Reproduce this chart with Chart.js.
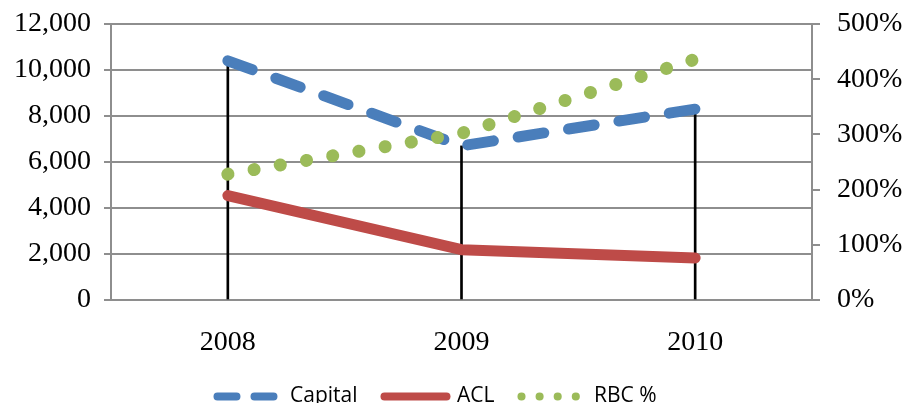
<!DOCTYPE html>
<html>
<head>
<meta charset="utf-8">
<script src="https://cdn.jsdelivr.net/npm/chart.js@4/dist/chart.umd.min.js"></script>
<style>
  html, body { margin: 0; padding: 0; background: #fff; overflow: hidden; }
  #wrap { position: relative; width: 910px; height: 417px; }
</style>
</head>
<body>
<div id="wrap"><canvas id="c"></canvas></div>
<script>
// Categories and series
const years = ['2008', '2009', '2010'];
const capital = [10400, 6700, 8300];
const acl = [4540, 2190, 1830];
const rbcPct = [228, 302, 436];

// Axis ranges
const leftAxis = { min: 0, max: 12000, step: 2000 };
const rightAxis = { min: 0, max: 500, step: 100 };

const BLUE = '#4a7ebb';
const RED = '#be4b48';
const GREEN = '#9bbb59';
const GRID = '#8e8e8e';
const serif = { family: "'Liberation Serif', 'Times New Roman', serif", size: 28 };

// legend samples: thinner versions of each line style
const legendStyle = [
  { lineDash: [19, 18] },
  { lineDash: [] },
  { lineDash: [0.1, 18] }
];

// nudges the legend row a little left of the canvas centre
const legendShift = {
  id: 'legendShift',
  afterLayout(chart) {
    if (chart.legend) chart.legend.right -= 36;
  }
};

// value axes: no extra room reserved above/below for the end labels
function trimPadding(s) {
  s.paddingTop = 0;
  s.paddingBottom = 0;
}

new Chart(document.getElementById('c'), {
  type: 'line',
  data: {
    labels: years,
    datasets: [
      {
        label: 'Capital',
        data: capital,
        yAxisID: 'y',
        borderColor: BLUE,
        backgroundColor: BLUE,
        borderWidth: 11,
        borderDash: [26, 25],
        borderCapStyle: 'round',
        borderJoinStyle: 'round',
        tension: 0,
        pointRadius: 0,
        fill: false,
        order: 1
      },
      {
        label: 'ACL',
        data: acl,
        yAxisID: 'y',
        borderColor: RED,
        backgroundColor: RED,
        borderWidth: 11,
        borderCapStyle: 'round',
        borderJoinStyle: 'round',
        tension: 0,
        pointRadius: 0,
        fill: false,
        order: 2
      },
      {
        label: 'RBC %',
        data: rbcPct,
        yAxisID: 'y1',
        borderColor: GREEN,
        backgroundColor: GREEN,
        borderWidth: 13,
        borderDash: [0.1, 26.5],
        borderCapStyle: 'round',
        tension: 0,
        pointRadius: 0,
        fill: false,
        order: 0
      },
      {
        // drop lines from the capital values down to the axis
        type: 'bar',
        label: 'drop',
        data: capital,
        yAxisID: 'y',
        backgroundColor: '#000',
        barThickness: 2,
        order: 10
      }
    ]
  },
  options: {
    responsive: true,
    maintainAspectRatio: false,
    animation: false,
    layout: { padding: { top: 24, left: 0, right: 0, bottom: 0 } },
    plugins: {
      tooltip: { enabled: false },
      legend: {
        position: 'bottom',
        labels: {
          font: { family: "'Open Sans', sans-serif", size: 21 },
          color: '#000',
          usePointStyle: true,
          pointStyle: 'line',
          pointStyleWidth: 62,
          padding: 27,
          generateLabels(chart) {
            return chart.data.datasets.slice(0, 3).map((ds, i) => ({
              text: ds.label,
              datasetIndex: i,
              fillStyle: ds.borderColor,
              strokeStyle: ds.borderColor,
              lineWidth: 8,
              lineCap: 'round',
              lineJoin: 'round',
              lineDash: legendStyle[i].lineDash,
              pointStyle: 'line',
              hidden: false
            }));
          }
        }
      }
    },
    scales: {
      x: {
        offset: true,
        grid: { display: false, drawTicks: false },
        border: { display: false },
        ticks: { font: serif, color: '#000', padding: 26 },
        afterFit(s) { s.height = 59; }
      },
      y: {
        position: 'left',
        min: leftAxis.min,
        max: leftAxis.max,
        ticks: {
          stepSize: leftAxis.step,
          font: serif,
          color: '#000',
          padding: 13,
          callback: v => v.toLocaleString('en-US')
        },
        grid: { color: GRID, lineWidth: 2, tickLength: 7 },
        border: { color: GRID, width: 2 },
        afterFit(s) { s.width = 111; trimPadding(s); }
      },
      y1: {
        position: 'right',
        min: rightAxis.min,
        max: rightAxis.max,
        ticks: {
          stepSize: rightAxis.step,
          font: serif,
          color: '#000',
          padding: 17,
          callback: v => v + '%'
        },
        grid: { drawOnChartArea: false, color: GRID, lineWidth: 2, tickLength: 8 },
        border: { color: GRID, width: 2 },
        afterFit(s) { s.width = 98; trimPadding(s); }
      }
    }
  },
  plugins: [legendShift]
});
</script>
</body>
</html>
